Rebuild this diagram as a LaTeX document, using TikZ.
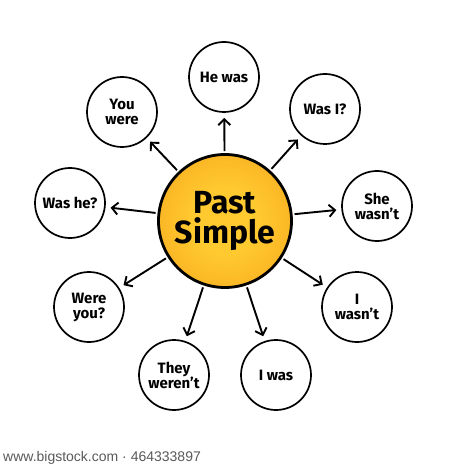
\documentclass[tikz,border=0pt]{standalone}
\usepackage{fontspec}
\setmainfont{Fira Sans}
\newfontfamily\creditfont{Liberation Sans}
\usetikzlibrary{arrows.meta}

\definecolor{sunin}{RGB}{255,202,48}
\definecolor{sunout}{RGB}{243,148,18}
\pgfdeclareradialshading{sunglow}{\pgfpoint{0bp}{0bp}}{color(0bp)=(sunin); color(12bp)=(sunin); color(48bp)=(sunout); color(72bp)=(sunout)}

\begin{document}
\begin{tikzpicture}[x=1pt, y=-1pt,
    bubble/.style={draw=black, line width=1.7pt, fill=white, circle, minimum size=70pt, inner sep=0pt, align=center, font=\bfseries\fontsize{15}{15}\selectfont},
    hub/.style={draw=black, line width=2.8pt, circle, minimum size=133pt, shading=sunglow, align=center, font=\bfseries\fontsize{32}{30}\selectfont},
    link/.style={-{Straight Barb[length=6pt, width=12pt]}, line width=1.9pt, shorten <=2pt, shorten >=5pt}]

  % page frame
  \useasboundingbox (0, 0) rectangle (450, 470);

  % centre topic
  \node at (225, 221) (past) [hub] {Past\\Simple};

  % outer bubbles
  \node at (224, 77) (hewas) [bubble] {He was};
  \node at (325, 109) (wasi) [bubble] {Was I?};
  \node at (377, 206) (shewasnt) [bubble] {She\\wasn't};
  \node at (357, 307) (iwasnt) [bubble] {I\\wasn't};
  \node at (276, 375) (iwas) [bubble] {I was};
  \node at (174, 375) (theywerent) [bubble] {They\\weren't};
  \node at (89, 307) (wereyou) [bubble] {Were\\you?};
  \node at (70, 203) (washe) [bubble] {Was he?};
  \node at (122, 112) (youwere) [bubble] {You\\were};

  % arrows out of the centre
  \foreach \spoke in {hewas, wasi, shewasnt, iwasnt, iwas, theywerent, wereyou, washe, youwere}
    \draw [link] (past) -- (\spoke);

  % credit line
  \node at (3, 458) (credit) [anchor=west, inner sep=0pt, text=black!65, font=\creditfont\fontsize{14}{14}\selectfont] {www.bigstock.com · 464333897};

\end{tikzpicture}
\end{document}
